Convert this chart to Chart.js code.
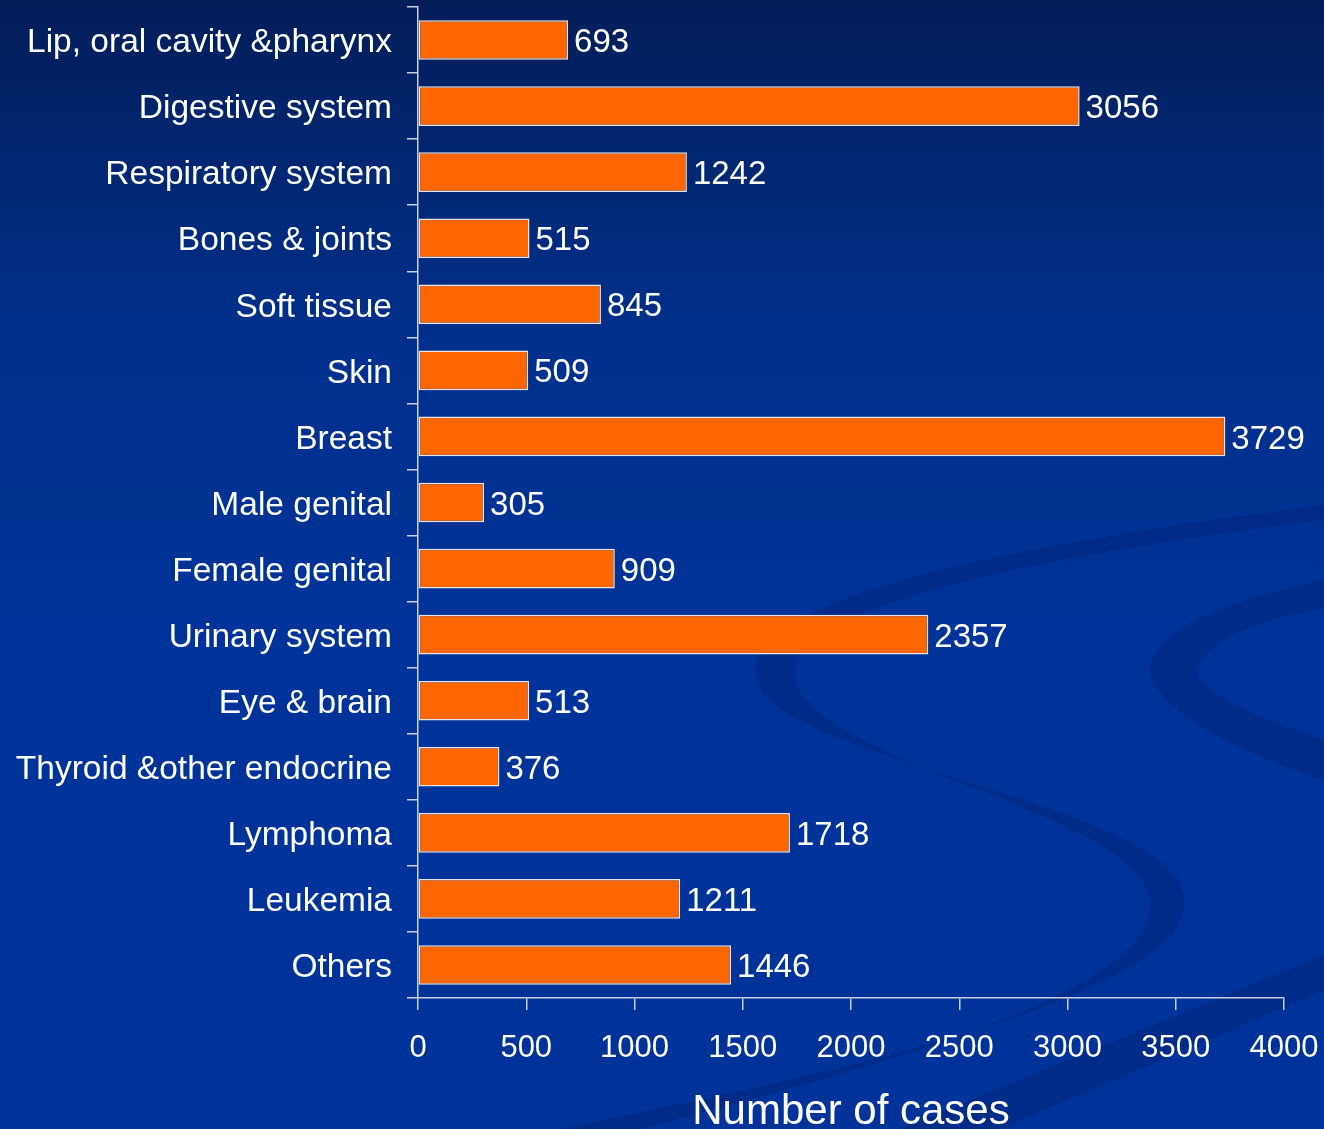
<!DOCTYPE html>
<html>
<head>
<meta charset="utf-8">
<script src="https://cdn.jsdelivr.net/npm/chart.js@4.4.0/dist/chart.umd.min.js"></script>
<style>
  html, body { margin: 0; padding: 0; background: #003399; overflow: hidden; }
  #wrap { width: 1324px; height: 1129px; }
</style>
</head>
<body>
<div id="wrap"><canvas id="myChart" width="1324" height="1129"></canvas></div>
<script>
const categories = [
    'Lip, oral cavity &pharynx', 'Digestive system', 'Respiratory system',
    'Bones & joints', 'Soft tissue', 'Skin', 'Breast', 'Male genital',
    'Female genital', 'Urinary system', 'Eye & brain',
    'Thyroid &other endocrine', 'Lymphoma', 'Leukemia', 'Others'
];
const cases = [693, 3056, 1242, 515, 845, 509, 3729, 305, 909, 2357, 513, 376, 1718, 1211, 1446];
const xTicks = [0, 500, 1000, 1500, 2000, 2500, 3000, 3500, 4000];

const FONT = '"Liberation Sans", Arial, sans-serif';

// slide background: navy gradient plus faint swooshes
const backdrop = {
    id: 'backdrop',
    beforeDraw(chart) {
        const ctx = chart.ctx;
        const w = chart.width, h = chart.height;
        ctx.save();
        const g = ctx.createLinearGradient(0, 0, 0, h);
        g.addColorStop(0, '#031d58');
        g.addColorStop(0.3, '#00308c');
        g.addColorStop(0.55, '#003399');
        g.addColorStop(1, '#003399');
        ctx.fillStyle = g;
        ctx.fillRect(0, 0, w, h);

        ctx.fillStyle = 'rgba(0, 30, 110, 0.35)';
        // big S band
        ctx.beginPath();
        ctx.moveTo(1324, 505);
        ctx.bezierCurveTo(1050, 540, 760, 590, 755, 670);
        ctx.bezierCurveTo(750, 760, 1180, 800, 1185, 900);
        ctx.bezierCurveTo(1190, 1000, 800, 1080, 560, 1129);
        ctx.lineTo(640, 1129);
        ctx.bezierCurveTo(900, 1060, 1160, 990, 1150, 900);
        ctx.bezierCurveTo(1140, 810, 790, 760, 795, 670);
        ctx.bezierCurveTo(800, 600, 1080, 550, 1324, 520);
        ctx.closePath();
        ctx.fill();
        // right loop
        ctx.beginPath();
        ctx.moveTo(1324, 580);
        ctx.bezierCurveTo(1180, 610, 1140, 650, 1152, 680);
        ctx.bezierCurveTo(1170, 720, 1260, 760, 1324, 780);
        ctx.lineTo(1324, 740);
        ctx.bezierCurveTo(1250, 715, 1195, 690, 1198, 670);
        ctx.bezierCurveTo(1205, 640, 1260, 620, 1324, 608);
        ctx.closePath();
        ctx.fill();
        // lower right diagonal
        ctx.beginPath();
        ctx.moveTo(1324, 955);
        ctx.lineTo(1324, 990);
        ctx.lineTo(1000, 1129);
        ctx.lineTo(900, 1129);
        ctx.closePath();
        ctx.fill();
        ctx.restore();
    }
};

// value labels at the end of each bar
const valueLabels = {
    id: 'valueLabels',
    afterDatasetsDraw(chart) {
        const ctx = chart.ctx;
        const meta = chart.getDatasetMeta(0);
        ctx.save();
        ctx.font = '33px ' + FONT;
        ctx.fillStyle = '#ffffff';
        ctx.textAlign = 'left';
        ctx.textBaseline = 'middle';
        meta.data.forEach((bar, i) => {
            ctx.fillText(String(cases[i]), bar.x + 6, bar.y + 3);
        });
        ctx.restore();
    }
};

new Chart(document.getElementById('myChart'), {
    type: 'bar',
    data: {
        labels: categories,
        datasets: [{
            data: cases,
            backgroundColor: '#ff6600',
            borderColor: '#e6e6e6',
            borderWidth: 1.5,
            borderSkipped: false,
            barPercentage: 0.6,
            categoryPercentage: 1
        }]
    },
    options: {
        indexAxis: 'y',
        responsive: false,
        animation: false,
        layout: { padding: { top: 7, right: 40, left: 0, bottom: 0 } },
        plugins: {
            legend: { display: false },
            tooltip: { enabled: false }
        },
        scales: {
            y: {
                afterFit(scale) {
                    scale.width = 418;
                    scale.paddingTop = 0;
                    scale.paddingBottom = 0;
                },
                grid: {
                    offset: true,
                    drawOnChartArea: false,
                    drawTicks: true,
                    tickLength: 11,
                    color: '#c8d0e0',
                    lineWidth: 1.5
                },
                border: { color: '#c8d0e0', width: 1.5 },
                ticks: {
                    color: '#ffffff',
                    padding: 15,
                    labelOffset: 3,
                    font: { family: FONT, size: 33.5 }
                }
            },
            x: {
                min: 0,
                max: 4000,
                afterFit(scale) {
                    scale.height = 131;
                    scale.paddingLeft = 0;
                    scale.paddingRight = 0;
                },
                afterBuildTicks(scale) { scale.ticks = xTicks.map(v => ({ value: v })); },
                grid: {
                    drawOnChartArea: false,
                    drawTicks: true,
                    tickLength: 12,
                    color: '#c8d0e0',
                    lineWidth: 1.5
                },
                border: { color: '#c8d0e0', width: 1.5 },
                ticks: {
                    color: '#ffffff',
                    padding: 20,
                    maxRotation: 0,
                    font: { family: FONT, size: 31 },
                    callback: (v) => String(v)
                },
                title: {
                    display: true,
                    text: 'Number of cases',
                    color: '#ffffff',
                    font: { family: FONT, size: 42 },
                    padding: { top: 0, bottom: -9 }
                }
            }
        }
    },
    plugins: [backdrop, valueLabels]
});
</script>
</body>
</html>
